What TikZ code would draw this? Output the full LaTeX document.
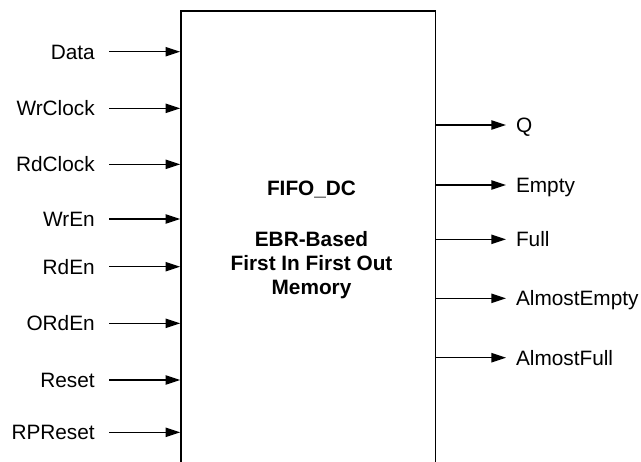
\documentclass[tikz,border=0pt]{standalone}
\usepackage{fontspec}
\setmainfont{Liberation Sans}
\usetikzlibrary{arrows.meta}

\begin{document}
\begin{tikzpicture}[x=0.75pt,y=-0.75pt,>={Triangle[length=11pt,width=7pt]},
port/.style={font=\fontsize{15.6}{18}\selectfont,text height=11.2pt,text depth=0pt},
inport/.style={port,anchor=east,inner xsep=10.5pt},
outport/.style={port,anchor=west,inner xsep=7.3pt},
wire/.style={line width=1pt,->}]
\useasboundingbox(0,0)rectangle(641,461);
\node[draw,line width=1.2pt,minimum width=190.9pt,minimum height=366.75pt,inner sep=0pt](fifo)at(308.25,255.5){};
\node[font=\bfseries\fontsize{15.6}{18}\selectfont,anchor=base,inner sep=0pt](title)at(311.5,195.7){FIFO\_DC};
\node[font=\bfseries\fontsize{15.6}{18}\selectfont,anchor=base,inner sep=0pt,align=center](descr)at(311.5,294.7){EBR-Based\\First In First Out\\Memory};
\foreach \y/\n/\t in {51.7/data/Data,108.3/wrclk/WrClock,164.3/rdclk/RdClock,219/wren/WrEn,
266.7/rden/RdEn,323.3/ordEn/ORdEn,380/rst/Reset,432.3/rprst/RPReset}{
\node[inport](\n)at(109,\y){\t};
\draw[wire](\n.east)--(\n.east-|fifo.west);
}
\foreach \y/\n/\t in {125/q/Q,185/empty/Empty,239.3/full/Full,298.3/aempty/AlmostEmpty,357.7/afull/AlmostFull}{
\node[outport](\n)at(506,\y){\t};
\draw[wire](\n.west-|fifo.east)--(\n.west);
}
\end{tikzpicture}
\end{document}
